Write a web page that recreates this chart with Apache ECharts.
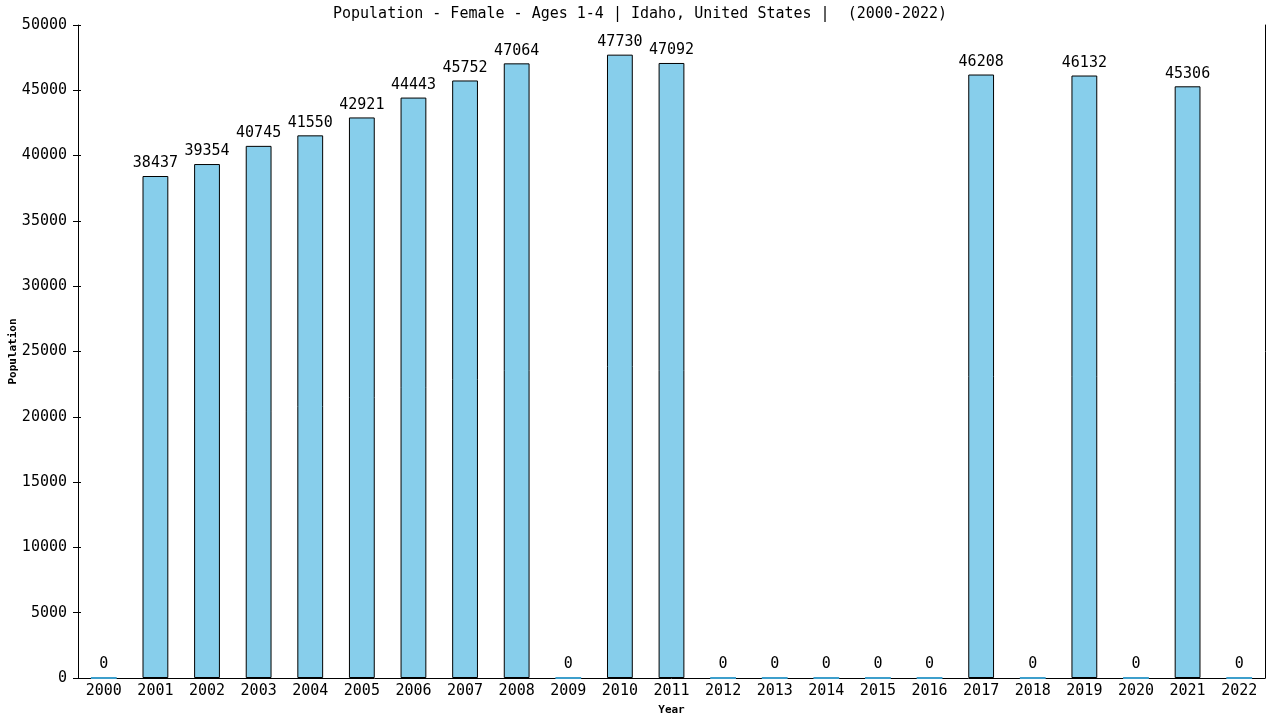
<!DOCTYPE html>
<html>
<head>
<meta charset="utf-8">
<script src="https://cdn.jsdelivr.net/npm/echarts@6/dist/echarts.min.js"></script>
<style>
html,body{margin:0;padding:0;background:#fff;}
#main{width:1280px;height:720px;}
</style>
</head>
<body>
<div id="main"></div>
<script>
const titleText = "Population - Female - Ages 1-4 | Idaho, United States |  (2000-2022)";
const years = ["2000","2001","2002","2003","2004","2005","2006","2007","2008","2009","2010","2011","2012","2013","2014","2015","2016","2017","2018","2019","2020","2021","2022"];
const population = [0,38437,39354,40745,41550,42921,44443,45752,47064,0,47730,47092,0,0,0,0,0,46208,0,46132,0,45306,0];
const yTicks = {min:0, max:50000, interval:5000};

const FONT = "'DejaVu Sans Mono', monospace";
const chart = echarts.init(document.getElementById('main'), null, {renderer:'canvas'});

const barData = population.map(v => v === 0
  ? {value: v, itemStyle: {borderColor: '#3d9fcc', borderWidth: 2}}
  : {value: v});

chart.setOption({
  animation: false,
  backgroundColor: '#ffffff',
  title: {
    text: titleText,
    left: 'center',
    top: 2,
    textStyle: {fontFamily: FONT, fontSize: 15, fontWeight: 'normal', color: '#000'}
  },
  grid: {left: 78, right: 15, top: 25, bottom: 42, containLabel: false, outerBoundsMode: 'none'},
  xAxis: {
    type: 'category',
    data: years,
    name: 'Year',
    nameLocation: 'middle',
    nameGap: 27,
    nameMoveOverlap: false,
    nameTextStyle: {fontFamily: FONT, fontSize: 11, fontWeight: 'bold', color: '#000'},
    axisLine: {lineStyle: {color: '#000', width: 1}},
    axisTick: {show: false},
    axisLabel: {fontFamily: FONT, fontSize: 15, color: '#000', margin: 6, interval: 0}
  },
  yAxis: [
    {
      type: 'value',
      min: yTicks.min, max: yTicks.max, interval: yTicks.interval,
      name: 'Population',
      nameLocation: 'middle',
      nameGap: 59,
      nameMoveOverlap: false,
      nameTextStyle: {fontFamily: FONT, fontSize: 11, fontWeight: 'bold', color: '#000'},
      axisLine: {show: true, lineStyle: {color: '#000', width: 1}},
      axisTick: {show: true, length: 5, lineStyle: {color: '#000'}},
      axisLabel: {fontFamily: FONT, fontSize: 15, color: '#000', margin: 11, formatter: v => String(v)},
      splitLine: {show: false}
    },
    {
      type: 'value',
      position: 'right',
      min: yTicks.min, max: yTicks.max, interval: yTicks.interval,
      axisLine: {show: true, lineStyle: {color: '#000', width: 1}},
      axisTick: {show: false},
      axisLabel: {show: false},
      splitLine: {show: false}
    },
    {
      type: 'value',
      position: 'left',
      min: yTicks.min, max: yTicks.max, interval: yTicks.interval,
      axisLine: {show: false},
      axisTick: {show: true, inside: true, length: 3, lineStyle: {color: '#000'}},
      axisLabel: {show: false},
      splitLine: {show: false}
    }
  ],
  series: [{
    type: 'bar',
    data: barData,
    barWidth: '50%',
    itemStyle: {color: '#87CEEB', borderColor: '#000', borderWidth: 1},
    label: {
      show: true,
      position: 'top',
      distance: 5,
      fontFamily: FONT,
      fontSize: 15,
      color: '#000'
    }
  }]
});
</script>
</body>
</html>
